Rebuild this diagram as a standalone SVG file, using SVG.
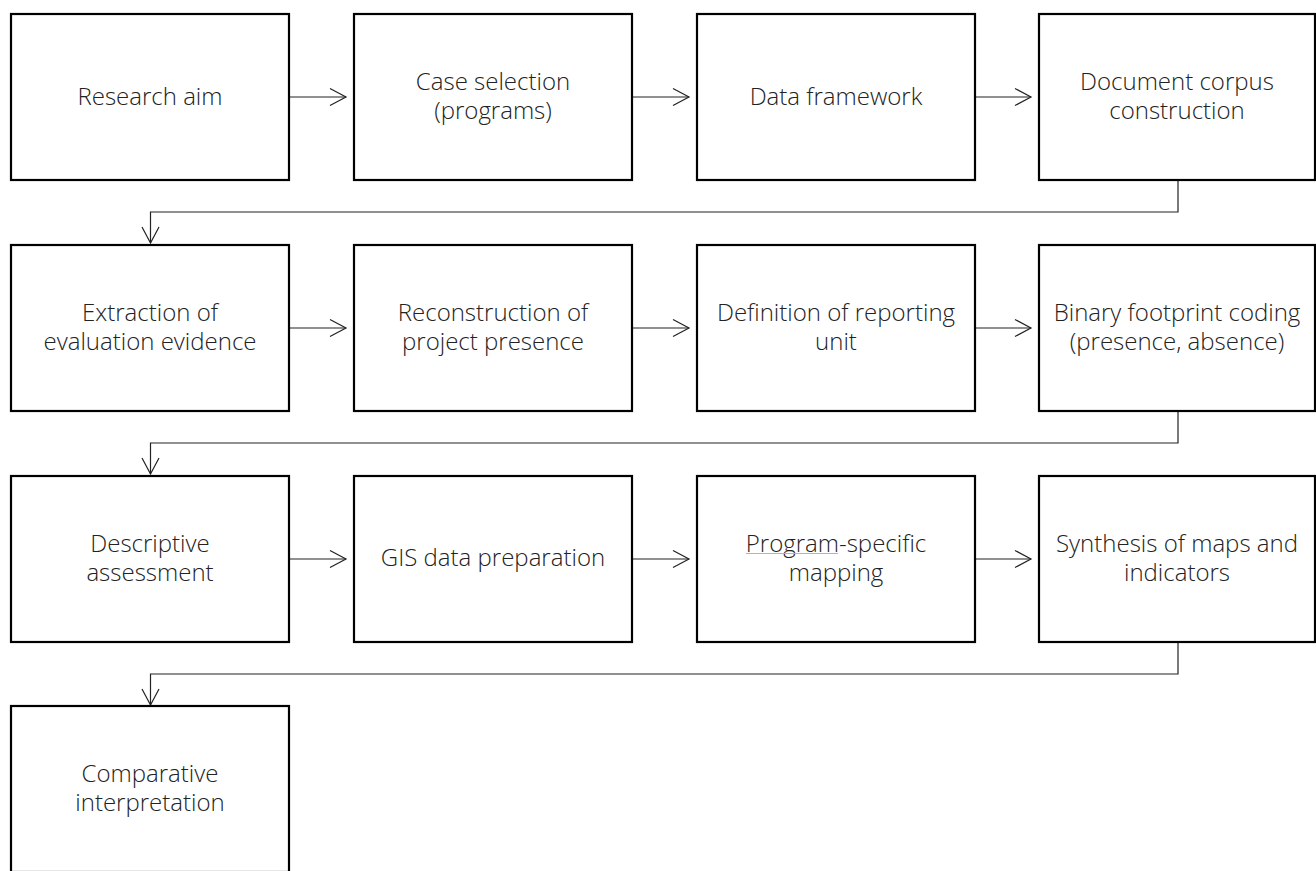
<svg xmlns="http://www.w3.org/2000/svg" width="1316" height="871" viewBox="0 0 1316 871">
<style>
.box{fill:#fff;stroke:#000;stroke-width:2.2}
.t{font-family:"Open Sans","Noto Sans",sans-serif;font-weight:300;font-size:24px;fill:#222;text-anchor:middle}
.c{fill:none;stroke:#222;stroke-width:1.2}
</style>
<defs>
<marker id="a" markerWidth="19" markerHeight="20" refX="17" refY="10" orient="auto" markerUnits="userSpaceOnUse">
<path d="M1,1.5 L17,10 L1,18.5" fill="none" stroke="#222" stroke-width="1.2"/>
</marker>
</defs>
<rect width="1316" height="871" fill="#fff"/>
<g id="connectors">
<line class="c" x1="289" y1="97" x2="346" y2="97" marker-end="url(#a)"/>
<line class="c" x1="632" y1="97" x2="689" y2="97" marker-end="url(#a)"/>
<line class="c" x1="975" y1="97" x2="1031" y2="97" marker-end="url(#a)"/>
<path class="c" d="M1178,180 V212 H150.5 V243" marker-end="url(#a)"/>
<line class="c" x1="289" y1="328" x2="346" y2="328" marker-end="url(#a)"/>
<line class="c" x1="632" y1="328" x2="689" y2="328" marker-end="url(#a)"/>
<line class="c" x1="975" y1="328" x2="1031" y2="328" marker-end="url(#a)"/>
<path class="c" d="M1178,411 V443 H150.5 V474" marker-end="url(#a)"/>
<line class="c" x1="289" y1="559" x2="346" y2="559" marker-end="url(#a)"/>
<line class="c" x1="632" y1="559" x2="689" y2="559" marker-end="url(#a)"/>
<line class="c" x1="975" y1="559" x2="1031" y2="559" marker-end="url(#a)"/>
<path class="c" d="M1178,642 V674 H150.5 V705" marker-end="url(#a)"/>
</g>
<g id="n1"><rect class="box" x="11" y="14" width="278" height="166"/><text class="t" x="150" y="105">Research aim</text></g>
<g id="n2"><rect class="box" x="354" y="14" width="278" height="166"/><text class="t" x="493" y="90">Case selection</text><text class="t" x="493" y="119">(programs)</text></g>
<g id="n3"><rect class="box" x="697" y="14" width="278" height="166"/><text class="t" x="836" y="105">Data framework</text></g>
<g id="n4"><rect class="box" x="1039" y="14" width="276" height="166"/><text class="t" x="1177" y="90">Document corpus</text><text class="t" x="1177" y="119">construction</text></g>
<g id="n5"><rect class="box" x="11" y="245" width="278" height="166"/><text class="t" x="150" y="321">Extraction of</text><text class="t" x="150" y="350">evaluation evidence</text></g>
<g id="n6"><rect class="box" x="354" y="245" width="278" height="166"/><text class="t" x="493" y="321">Reconstruction of</text><text class="t" x="493" y="350">project presence</text></g>
<g id="n7"><rect class="box" x="697" y="245" width="278" height="166"/><text class="t" x="836" y="321">Definition of reporting</text><text class="t" x="836" y="350">unit</text></g>
<g id="n8"><rect class="box" x="1039" y="245" width="276" height="166"/><text class="t" x="1177" y="321">Binary footprint coding</text><text class="t" x="1177" y="350">(presence, absence)</text></g>
<g id="n9"><rect class="box" x="11" y="476" width="278" height="166"/><text class="t" x="150" y="552">Descriptive</text><text class="t" x="150" y="581">assessment</text></g>
<g id="n10"><rect class="box" x="354" y="476" width="278" height="166"/><text class="t" x="493" y="566">GIS data preparation</text></g>
<g id="n11"><rect class="box" x="697" y="476" width="278" height="166"/><text class="t" x="836" y="552">Program-specific</text><text class="t" x="836" y="581">mapping</text><line x1="746" y1="553.5" x2="838" y2="553.5" stroke="#f29a9a" stroke-width="1"/></g>
<g id="n12"><rect class="box" x="1039" y="476" width="276" height="166"/><text class="t" x="1177" y="552">Synthesis of maps and</text><text class="t" x="1177" y="581">indicators</text></g>
<g id="n13"><rect class="box" x="11" y="706" width="278" height="166"/><text class="t" x="150" y="782">Comparative</text><text class="t" x="150" y="811">interpretation</text></g>
</svg>
